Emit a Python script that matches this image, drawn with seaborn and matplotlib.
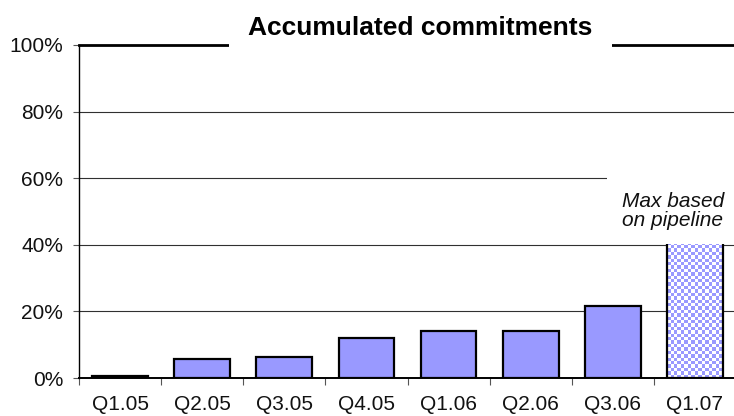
import numpy as np
import pandas as pd
import seaborn as sns
import matplotlib.pyplot as plt
from matplotlib.colors import ListedColormap
from matplotlib.ticker import PercentFormatter

# ---- data ----
quarters = ["Q1.05", "Q2.05", "Q3.05", "Q4.05", "Q1.06", "Q2.06", "Q3.06", "Q1.07"]
commitments = [0.5, 5.7, 6.3, 12.0, 14.1, 14.1, 21.6, 42.0]
yticks = [0, 20, 40, 60, 80, 100]
title = "Accumulated commitments"
note = "Max based\non pipeline"

BAR = "#9999FF"

sns.set_theme(style="white")
plt.rcParams["font.family"] = ["Liberation Sans", "DejaVu Sans"]

fig = plt.figure(figsize=(7.34, 4.16), dpi=100)
ax = fig.add_axes([79 / 734, 38 / 416, 657 / 734, 333 / 416])

df = pd.DataFrame({"quarter": quarters, "value": commitments})
sns.barplot(data=df, x="quarter", y="value", color=BAR, saturation=1,
            width=0.68, edgecolor="black", linewidth=1.6, ax=ax, zorder=3)

ax.set_xlim(-0.5, len(quarters) - 0.5)
ax.set_ylim(0, 100)

# checkerboard fill for the projected (last) bar
patch = ax.patches[-1]
patch.set_facecolor("none")
x0, w, h = patch.get_x(), patch.get_width(), patch.get_height()
p0 = ax.transData.transform((x0, 0))
p1 = ax.transData.transform((x0 + w, h))
cell = 3.4
nx = max(1, int(round((p1[0] - p0[0]) / cell)))
ny = max(1, int(round((p1[1] - p0[1]) / cell)))
checker = np.indices((ny, nx)).sum(axis=0) % 2
xe = np.linspace(x0, x0 + w, nx + 1)
ye = np.linspace(0, h, ny + 1)
mesh = ax.pcolormesh(xe, ye, checker, cmap=ListedColormap(["white", BAR]),
                     shading="flat", zorder=2.9, antialiased=False,
                     edgecolors="none")
mesh.set_clip_path(patch)
ax.set_xlim(-0.5, len(quarters) - 0.5)
ax.set_ylim(0, 100)

# axes styling
ax.set_xlabel("")
ax.set_ylabel("")
ax.set_yticks(yticks)
ax.yaxis.set_major_formatter(PercentFormatter(decimals=0))
ax.yaxis.grid(True, color="#303030", lw=0.8)
ax.xaxis.grid(False)
ax.set_axisbelow(True)

ax.set_xticks(np.arange(len(quarters)), labels=quarters, minor=True)
ax.set_xticks(np.arange(-0.5, len(quarters)), labels=[])
ax.tick_params(axis="x", which="major", length=5, width=0.8, color="#555555",
               direction="out", bottom=True)
ax.tick_params(axis="x", which="minor", length=0, pad=12.5, labelsize=15,
               labelcolor="#111111", bottom=True)
ax.tick_params(axis="y", which="major", length=4.5, width=0.8, color="#555555",
               direction="out", left=True, pad=7, labelsize=15, labelcolor="#111111")

ax.spines["left"].set_color("black")
ax.spines["left"].set_linewidth(1.0)
ax.spines["bottom"].set_color("black")
ax.spines["bottom"].set_linewidth(1.4)
ax.spines["top"].set_color("black")
ax.spines["top"].set_linewidth(2.0)
ax.spines["right"].set_visible(False)

# annotation with white box hiding part of gridline / bar top
ax.text(6.73, 50.2, note, ha="center", va="center", fontsize=15,
        fontstyle="italic", color="#111111", linespacing=1.0, zorder=6,
        clip_on=False,
        bbox=dict(facecolor="white", edgecolor="none", boxstyle="square,pad=0.7"))

fig.text(420.5 / 734, 1 - 28 / 416, title, ha="center", va="center",
         fontsize=19, fontweight="bold", color="black",
         bbox=dict(facecolor="white", edgecolor="none", boxstyle="square,pad=0.75"))

fig.savefig("out.png", dpi=100)
